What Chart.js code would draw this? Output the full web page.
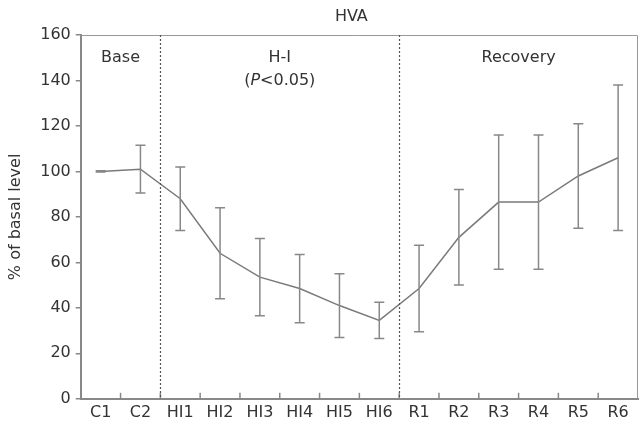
<!DOCTYPE html>
<html>
<head>
<meta charset="utf-8">
<script src="https://cdn.jsdelivr.net/npm/chart.js@4.4.1/dist/chart.umd.min.js"></script>
<style>
  html, body { margin: 0; padding: 0; background: #fff; }
  #wrap { width: 639px; height: 430px; }
</style>
</head>
<body>
<div id="wrap"><canvas id="hvaChart"></canvas></div>
<script>
const labels = ['C1', 'C2', 'HI1', 'HI2', 'HI3', 'HI4', 'HI5', 'HI6', 'R1', 'R2', 'R3', 'R4', 'R5', 'R6'];
const meanValues = [100, 101, 88, 64, 53.5, 48.5, 41, 34.5, 48.5, 71, 86.5, 86.5, 98, 106];
const errValues = [0.3, 10.5, 14, 20, 17, 15, 14, 8, 19, 21, 29.5, 29.5, 23, 32];
const yTicks = [0, 20, 40, 60, 80, 100, 120, 140, 160];
// phase boundaries sit between these label indices
const splitAfter = [1, 7];
const phases = [
    { text: ['Base'], from: 0, to: 1 },
    { text: ['H-I', '(P<0.05)'], from: 2, to: 7 },
    { text: ['Recovery'], from: 8, to: 13 }
];
const chartTitle = 'HVA';

const font = '"DejaVu Sans", Arial, sans-serif';
const grey = '#7a7a7a';

// error bars, phase lines, labels, frame, title
const extras = {
    id: 'extras',
    afterDatasetsDraw(chart) {
        const ctx = chart.ctx, x = chart.scales.x, y = chart.scales.y, area = chart.chartArea;
        const step = x.getPixelForValue(1) - x.getPixelForValue(0);
        ctx.save();

        // error bars
        ctx.strokeStyle = '#888';
        ctx.lineWidth = 1.5;
        meanValues.forEach((m, i) => {
            const px = x.getPixelForValue(i);
            const top = y.getPixelForValue(m + errValues[i]);
            const bot = y.getPixelForValue(m - errValues[i]);
            ctx.beginPath();
            ctx.moveTo(px, top); ctx.lineTo(px, bot);
            ctx.moveTo(px - 5, top); ctx.lineTo(px + 5, top);
            ctx.moveTo(px - 5, bot); ctx.lineTo(px + 5, bot);
            ctx.stroke();
        });

        // frame top / right
        ctx.strokeStyle = '#999';
        ctx.lineWidth = 1;
        ctx.beginPath();
        ctx.moveTo(area.left, area.top + 0.5);
        ctx.lineTo(area.right - 0.5, area.top + 0.5);
        ctx.lineTo(area.right - 0.5, area.bottom);
        ctx.stroke();

        // inward ticks on x axis
        ctx.strokeStyle = '#888';
        ctx.lineWidth = 1.5;
        for (let i = 0; i < labels.length - 1; i++) {
            const px = x.getPixelForValue(i) + step / 2;
            ctx.beginPath();
            ctx.moveTo(px, area.bottom);
            ctx.lineTo(px, area.bottom - 6);
            ctx.stroke();
        }

        // dotted phase lines
        ctx.strokeStyle = '#555';
        ctx.lineWidth = 1.2;
        ctx.setLineDash([2, 2]);
        splitAfter.forEach(i => {
            const px = Math.round(x.getPixelForValue(i) + step / 2) + 0.5;
            ctx.beginPath();
            ctx.moveTo(px, area.top);
            ctx.lineTo(px, area.bottom);
            ctx.stroke();
        });
        ctx.setLineDash([]);

        // phase labels
        const f = '16px ' + font, fi = 'italic 16px ' + font;
        ctx.fillStyle = '#333';
        ctx.textBaseline = 'middle';
        phases.forEach(p => {
            const cx = (x.getPixelForValue(p.from) + x.getPixelForValue(p.to)) / 2;
            p.text.forEach((t, k) => {
                const py = y.getPixelForValue(150 - k * 10);
                if (t.indexOf('P<') >= 0) {
                    // italic P
                    const parts = ['(', 'P', '<0.05)'];
                    ctx.font = f;
                    const w0 = ctx.measureText(parts[0]).width;
                    const w2 = ctx.measureText(parts[2]).width;
                    ctx.font = fi;
                    const w1 = ctx.measureText(parts[1]).width;
                    const sx = cx - (w0 + w1 + w2) / 2;
                    ctx.textAlign = 'left';
                    ctx.font = f;
                    ctx.fillText(parts[0], sx, py);
                    ctx.font = fi;
                    ctx.fillText(parts[1], sx + w0, py);
                    ctx.font = f;
                    ctx.fillText(parts[2], sx + w0 + w1, py);
                } else {
                    ctx.textAlign = 'center';
                    ctx.font = f;
                    ctx.fillText(t, cx, py);
                }
            });
        });

        // title, a little left of the plot centre as in the original
        ctx.textAlign = 'center';
        ctx.font = '16px ' + font;
        ctx.fillText(chartTitle, (area.left + area.right) / 2 - 8, area.top - 18);
        ctx.restore();
    }
};

new Chart(document.getElementById('hvaChart'), {
    type: 'line',
    plugins: [extras],
    data: {
        labels: labels,
        datasets: [
            {
                label: chartTitle,
                data: meanValues,
                borderColor: grey,
                borderWidth: 1.5,
                pointRadius: 0,
                tension: 0,
                fill: false
            }
        ]
    },
    options: {
        responsive: true,
        maintainAspectRatio: false,
        animation: false,
        layout: {
            padding: { left: 6, right: 1, top: 35, bottom: 4 }
        },
        plugins: {
            legend: {
                display: false
            },
            tooltip: {
                enabled: false
            },
            title: {
                display: false
            }
        },
        scales: {
            x: {
                offset: true,
                grid: {
                    display: true,
                    offset: true,
                    drawOnChartArea: false,
                    drawTicks: false
                },
                border: { color: '#888', width: 2 },
                ticks: {
                    color: '#333',
                    padding: 4,
                    autoSkip: false,
                    maxRotation: 0,
                    font: { family: font, size: 16 }
                }
            },
            y: {
                min: 0,
                max: 160,
                afterBuildTicks: axis => {
                    axis.ticks = yTicks.map(v => ({ value: v }));
                },
                title: {
                    display: true,
                    text: '% of basal level',
                    color: '#333',
                    font: { family: font, size: 16 },
                    padding: { top: 0, bottom: 10 }
                },
                grid: {
                    drawOnChartArea: false,
                    tickLength: 5,
                    color: '#888',
                    lineWidth: 1.5
                },
                border: { color: '#888', width: 2 },
                ticks: {
                    color: '#333',
                    padding: 5,
                    font: { family: font, size: 16 }
                }
            }
        }
    }
});
</script>
</body>
</html>
